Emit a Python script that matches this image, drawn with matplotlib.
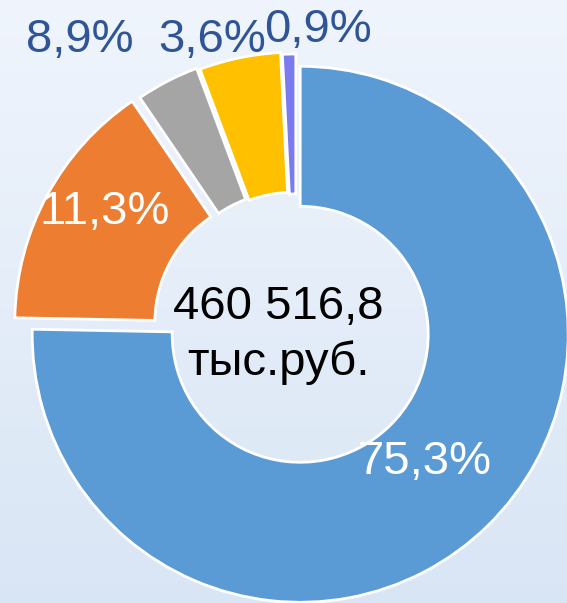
import numpy as np
import matplotlib.pyplot as plt

# wedge sizes as drawn in the picture, and the printed labels
shares = [75.3, 15.2, 3.8, 4.9, 0.8]
labels = ['75,3%', '11,3%', '8,9%', '3,6%', '0,9%']
colors = ['#5B9BD5', '#ED7D31', '#A5A5A5', '#FFC000', '#7B7BF0']
label_colors = ['white', 'white', '#2F5597', '#2F5597', '#2F5597']
total_text = '460 516,8\nтыс.руб.'

W, H = 567, 603
fig = plt.figure(figsize=(W / 100, H / 100), dpi=100)
plt.rcParams['font.family'] = ['Liberation Sans', 'DejaVu Sans']

# background gradient
bg = fig.add_axes([0, 0, 1, 1])
grad = np.linspace(0, 1, 256).reshape(-1, 1)
top = np.array([0.94, 0.96, 0.99])
bot = np.array([0.85, 0.90, 0.96])
img = top + (bot - top) * grad[:, :, None]
bg.imshow(img, aspect='auto', extent=[0, 1, 0, 1], origin='upper')
bg.axis('off')

ax = fig.add_axes([0, 0, 1, 1])
ax.patch.set_alpha(0)

cx, cy, r = 296, H - 330, 268
ax.pie(shares, colors=colors, startangle=90, counterclock=False,
       center=(cx, cy), radius=r, explode=[6, 15, 12, 10, 8],
       wedgeprops=dict(width=140, edgecolor='white', linewidth=2),
       frame=True)
ax.set_xlim(0, W)
ax.set_ylim(0, H)
ax.set_aspect('equal')
ax.axis('off')

label_pos = [(425, H - 462), (105, H - 212), (80, H - 40), (212, H - 40), (318, H - 30)]
for txt, c, (x, y) in zip(labels, label_colors, label_pos):
    ax.text(x, y, txt, color=c, fontsize=34, ha='center', va='center')

ax.text(278, H - 335, total_text, ha='center', va='center', fontsize=34,
        color='black', linespacing=1.35)

fig.savefig('out.png', dpi=100)
